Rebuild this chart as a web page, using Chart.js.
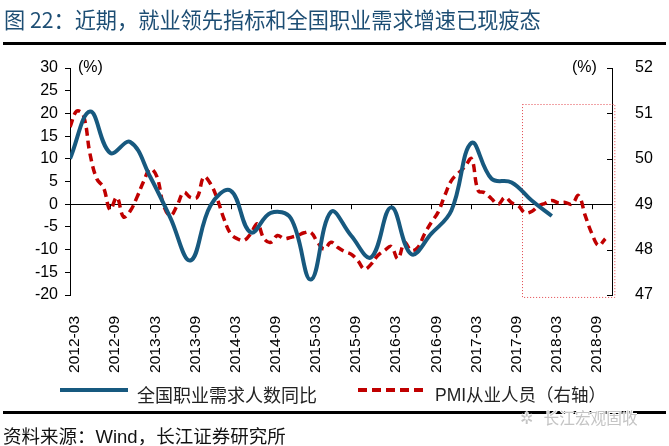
<!DOCTYPE html>
<html>
<head>
<meta charset="utf-8">
<script src="https://cdn.jsdelivr.net/npm/chart.js@4.4.1/dist/chart.umd.min.js"></script>
<style>
  body { margin: 0; background: #fff; }
  #wrap { position: relative; width: 669px; height: 446px; overflow: hidden; font-family: 'Liberation Sans', 'Noto Sans CJK SC', sans-serif; }
  #chart { position: absolute; left: 0; top: 0; }
  .abs { position: absolute; white-space: nowrap; }
  #title { left: 4px; top: 3px; font-size: 21.2px; color: #1d4e74; font-family: 'Noto Sans CJK SC', sans-serif; }
  .rule { left: 3px; width: 663px; height: 3px; background: #000; }
  .unit { font-size: 16px; color: #000; top: 58px; }
  .legtext { top: 381px; color: #222; font-family: 'Liberation Sans', 'Noto Sans CJK SC', sans-serif; }
  #source { left: 3px; top: 422px; font-size: 18.5px; color: #111; font-family: 'Liberation Sans', 'Noto Sans CJK SC', sans-serif; }
  #mark { left: 520px; top: 406px; font-size: 15.7px; color: #c4c4c4; font-family: 'Noto Sans CJK SC', sans-serif;
          text-shadow: 1px 0 #fff, -1px 0 #fff, 0 1px #fff, 0 -1px #fff; }
</style>
</head>
<body>
<div id="wrap">
  <canvas id="chart" width="669" height="446"></canvas>
  <div id="title" class="abs">图 22：近期，就业领先指标和全国职业需求增速已现疲态</div>
  <div class="abs rule" style="top:42px"></div>
  <div class="abs unit" style="left:78px">(%)</div>
  <div class="abs unit" style="left:572px">(%)</div>
  <div class="abs" style="left:60px;top:388px;width:68px;height:4px;background:#17597f"></div>
  <div class="abs legtext" style="left:137px;font-size:18px">全国职业需求人数同比</div>
  <div class="abs" style="left:358px;top:388px;width:70px;height:4px;background:repeating-linear-gradient(to right,#c00000 0 9px,transparent 9px 14px)"></div>
  <div class="abs legtext" style="left:435px;font-size:17.5px">PMI从业人员（右轴）</div>
  <div class="abs rule" style="top:411px;height:2.5px"></div>
  <div id="mark" class="abs">✲&nbsp;&nbsp;&nbsp;长江宏观固收</div>
  <div id="source" class="abs">资料来源：Wind，长江证券研究所</div>
</div>
<script>
// x axis tick labels, every 6 months starting 2012-03
const xLabels = ['2012-03', '2012-09', '2013-03', '2013-09', '2014-03', '2014-09', '2015-03',
  '2015-09', '2016-03', '2016-09', '2017-03', '2017-09', '2018-03', '2018-09'];

// 全国职业需求人数同比 (%), quarterly from 2012-03
const demandYoY = [10.0, 20.4, 11.3, 13.7, 6.0, -3.0, -12.4, -0.3, 3.0, -6.2, -1.9, -3.1,
  -16.6, -1.7, -6.9, -11.7, -0.7, -11.0, -6.5, -1.4, 13.5, 5.6, 4.8, 0.8, -2.6];

// PMI从业人员 (right axis), monthly from 2012-03
const pmiEmployment = [
  50.7, 51.05, 50.96, 50.1, 49.56, 49.37, 48.88, 49.15, 48.72, 48.85, 49.15, 49.5,
  49.78, 49.6, 48.97, 48.75, 48.97, 49.26, 49.15, 49.15, 49.6, 49.45, 49.12, 48.68,
  48.35, 48.24, 48.2, 48.35, 48.57, 48.24, 48.16, 48.31, 48.24, 48.27, 48.31, 48.37,
  48.38, 48.16, 48.01, 48.16, 48.05, 47.96, 47.9, 47.76, 47.57, 47.68, 47.87, 47.98,
  48.07, 47.8, 48.15, 47.98, 48.05, 48.35, 48.6, 48.82, 49.19, 49.52, 49.68, 49.82,
  50.0, 49.3, 49.25, 49.12, 49.0, 49.15, 49.03, 48.97, 48.81, 48.84, 48.96, 49.02,
  49.08, 49.03, 49.04, 49.0, 49.19, 48.75, 48.35, 48.09, 48.24
];

// highlighted window (months since 2012-03, right-axis values)
const boxMonths = [67.5, 81.3];
const boxRange = [46.95, 51.2];

const BLUE = '#17597f';
const RED = '#c00000';

// zero line, tick marks and the dotted highlight box
const guides = {
  id: 'guides',
  beforeDatasetsDraw(chart) {
    const { ctx, chartArea: a, scales: { x, y, y2 } } = chart;
    const y0 = y.getPixelForValue(0);
    ctx.save();
    ctx.strokeStyle = '#000';
    ctx.lineWidth = 1;
    ctx.beginPath();
    ctx.moveTo(a.left, Math.round(y0) + 0.5);
    ctx.lineTo(a.right, Math.round(y0) + 0.5);
    x.ticks.forEach(t => {
      const px = Math.round(x.getPixelForValue(t.value)) + 0.5;
      ctx.moveTo(px, y0);
      ctx.lineTo(px, y0 + 5);
    });
    y2.ticks.forEach(t => {
      const py = Math.round(y2.getPixelForValue(t.value)) + 0.5;
      ctx.moveTo(a.right - 5, py);
      ctx.lineTo(a.right, py);
    });
    ctx.stroke();

    const bx0 = x.getPixelForValue(boxMonths[0]);
    const bx1 = x.getPixelForValue(boxMonths[1]);
    const by0 = y2.getPixelForValue(boxRange[1]);
    const by1 = y2.getPixelForValue(boxRange[0]);
    ctx.strokeStyle = '#e2474c';
    ctx.setLineDash([1, 2]);
    ctx.strokeRect(Math.round(bx0) + 0.5, Math.round(by0) + 0.5, bx1 - bx0, by1 - by0);
    ctx.restore();
  }
};

const tickFont = { family: "'Liberation Sans', Arial, sans-serif", size: 16 };

new Chart(document.getElementById('chart'), {
  type: 'line',
  data: {
    datasets: [
      {
        label: '全国职业需求人数同比',
        data: demandYoY.map((v, i) => ({ x: i * 3, y: v })),
        borderColor: BLUE,
        borderWidth: 4,
        pointRadius: 0,
        tension: 0.4,
        yAxisID: 'y'
      },
      {
        label: 'PMI从业人员（右轴）',
        data: pmiEmployment.map((v, i) => ({ x: i, y: v })),
        borderColor: RED,
        borderWidth: 3.5,
        borderDash: [8, 5],
        pointRadius: 0,
        tension: 0.4,
        yAxisID: 'y2'
      }
    ]
  },
  options: {
    responsive: false,
    animation: false,
    layout: { padding: { top: 68, left: 0, right: 0, bottom: 0 } },
    plugins: { legend: { display: false }, tooltip: { enabled: false } },
    scales: {
      x: {
        type: 'linear',
        min: 0,
        max: 81,
        afterBuildTicks: s => { s.ticks = xLabels.map((_, i) => ({ value: i * 6 })); },
        afterFit: s => { s.height = 151; },
        grid: { display: false },
        border: { display: false },
        ticks: {
          minRotation: 90,
          maxRotation: 90,
          padding: 13,
          labelOffset: 5,
          color: '#000',
          font: { family: "'Liberation Sans', Arial, sans-serif", size: 15.5 },
          callback: v => xLabels[v / 6]
        }
      },
      y: {
        position: 'left',
        min: -20,
        max: 30,
        afterFit: s => { s.width = 70; },
        grid: { display: true, drawOnChartArea: false, tickLength: 5, color: '#000' },
        border: { display: true, color: '#000' },
        ticks: { stepSize: 5, padding: 7, color: '#000', font: tickFont }
      },
      y2: {
        position: 'right',
        min: 47,
        max: 52,
        afterFit: s => { s.width = 57; },
        grid: { display: false },
        border: { display: true, color: '#000' },
        ticks: { stepSize: 1, padding: 15, color: '#000', font: tickFont }
      }
    }
  },
  plugins: [guides]
});
</script>
</body>
</html>
